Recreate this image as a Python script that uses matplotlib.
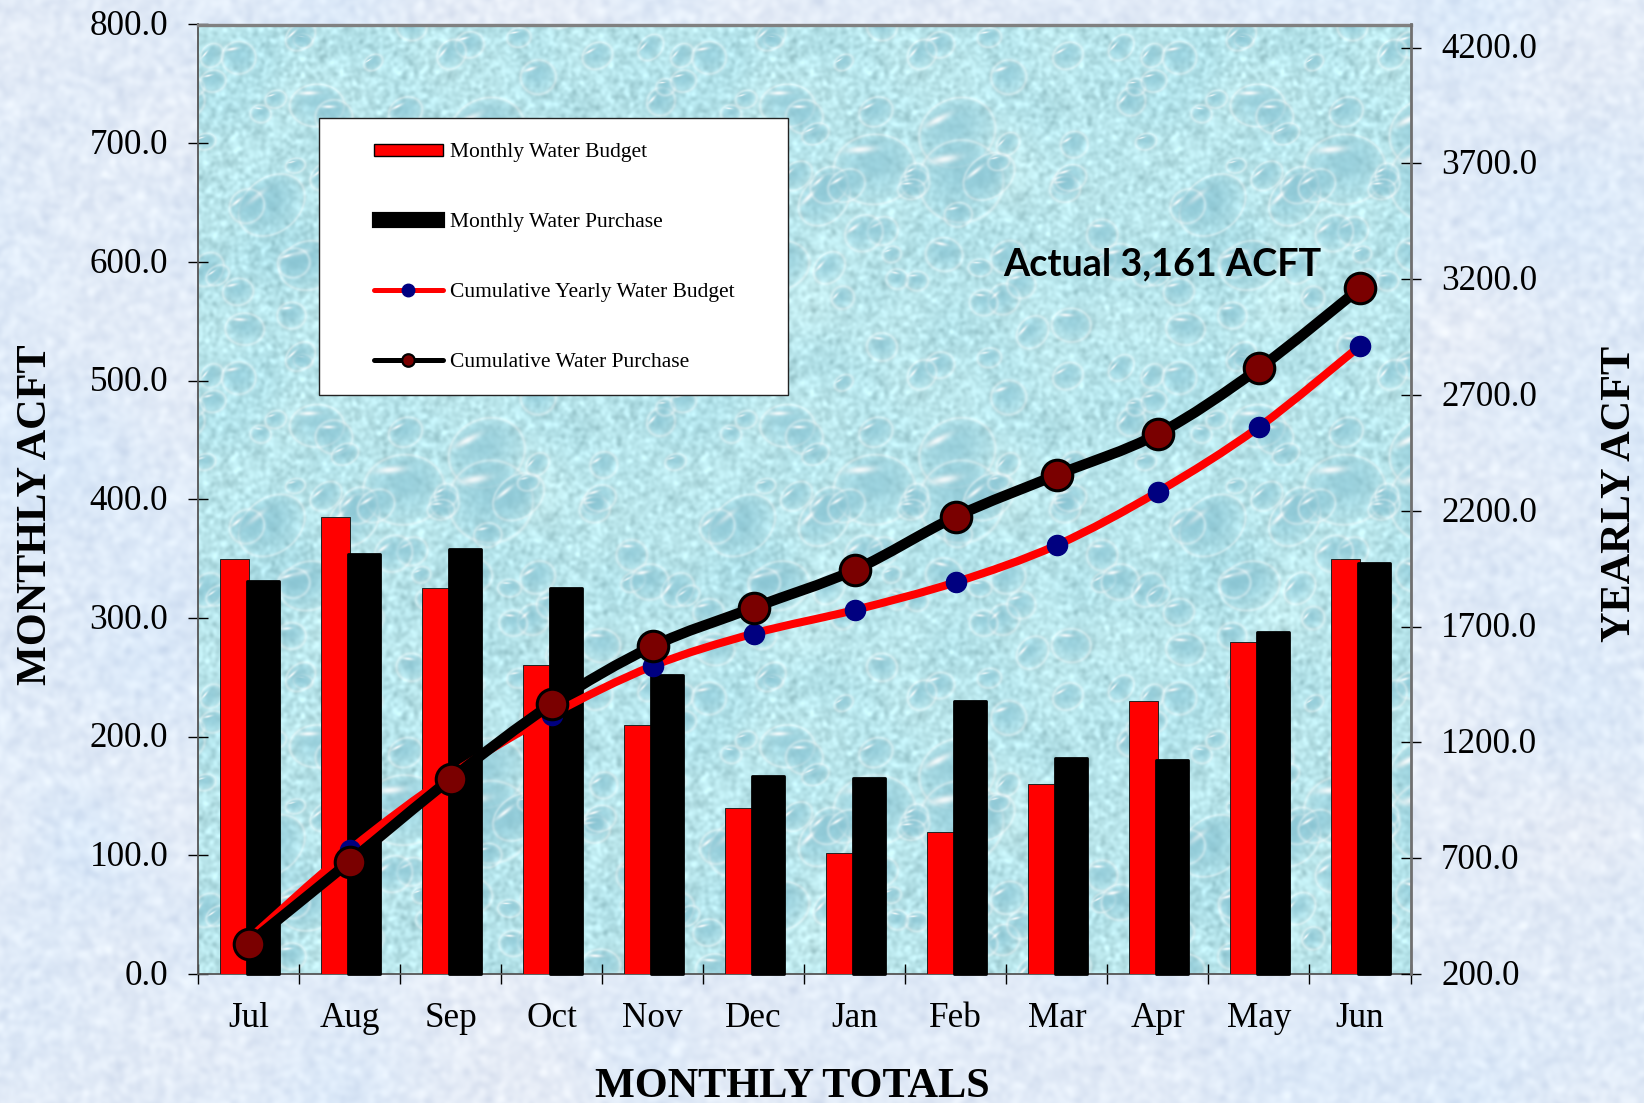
import numpy as np
import matplotlib
matplotlib.use("Agg")
import matplotlib.pyplot as plt
from matplotlib.lines import Line2D
from matplotlib.patches import Patch, PathPatch, Rectangle
from matplotlib.path import Path
from matplotlib.transforms import ScaledTranslation

# Water budget data in acre-feet, by fiscal-year month
months = ["Jul", "Aug", "Sep", "Oct", "Nov", "Dec", "Jan", "Feb", "Mar", "Apr", "May", "Jun"]
monthly_budget = [350, 385, 325, 260, 210, 140, 102, 120, 160, 230, 280, 350]
monthly_purchase = [331, 354, 358, 325, 252, 167, 165, 230, 182, 180, 288, 346]
cumulative_budget = [350, 735, 1060, 1320, 1530, 1670, 1772, 1892, 2052, 2282, 2562, 2912]
cumulative_purchase = [331, 685, 1042, 1365, 1615, 1782, 1945, 2175, 2355, 2532, 2815, 3161]
left_ticks = [0, 100, 200, 300, 400, 500, 600, 700, 800]
right_ticks = [200, 700, 1200, 1700, 2200, 2700, 3200, 3700, 4200]

W, H = 1644, 1103
PLOT_L, PLOT_R, PLOT_T, PLOT_B = 198, 1410.5, 24.5, 974
SERIF = "Liberation Serif"


def fx(px):
    return px / W


def fy(py):
    return 1 - py / H


def lowpass(rng, h, w, scale):
    """Smooth noise field normalised to unit spread."""
    spec = np.fft.rfft2(rng.standard_normal((h, w)))
    ky = np.fft.fftfreq(h)[:, None]
    kx = np.fft.rfftfreq(w)[None, :]
    field = np.fft.irfft2(spec * np.exp(-2 * (np.pi * scale) ** 2 * (kx ** 2 + ky ** 2)), s=(h, w))
    return field / field.std()


def paper_texture(h, w):
    """Pale blue mottled page backdrop."""
    rng = np.random.default_rng(11)
    img = np.ones((h, w, 3)) * np.array([225, 235, 248]) / 255
    cloud = lowpass(rng, h, w, 45)[..., None]
    fine = lowpass(rng, h, w, 3.0)[..., None]
    img += cloud * np.array([-0.010, -0.003, 0.002]) + fine * np.array([0.016, 0.014, 0.009])
    return np.clip(img, 0, 1)


def droplet_tile(h, w):
    """Wet glass pattern: aqua base with shaded drops and bright streaks."""
    rng = np.random.default_rng(5)
    img = np.ones((h, w, 3)) * np.array([184, 229, 235]) / 255
    img += lowpass(rng, h, w, 22)[..., None] * np.array([-0.014, -0.008, -0.005])
    grain = lowpass(rng, h, w, 1.8)[..., None]
    img += grain * 0.034
    yy, xx = np.mgrid[0:h, 0:w]
    dark = np.array([135, 195, 210]) / 255
    sizes = np.concatenate([rng.uniform(26, 46, 8), rng.uniform(9, 20, 60)])
    for a in sizes:
        cx, cy = rng.uniform(0, w), rng.uniform(0, h)
        b = a * rng.uniform(0.72, 1.0)
        theta = rng.uniform(-0.9, 0.2)
        dx = (xx - cx + w / 2) % w - w / 2
        dy = (yy - cy + h / 2) % h - h / 2
        u = (dx * np.cos(theta) + dy * np.sin(theta)) / a
        v = (-dx * np.sin(theta) + dy * np.cos(theta)) / b
        r = np.hypot(u, v)
        fill = np.clip(1 - r, 0, 1) ** 0.5 * np.clip(0.68 - 0.40 * v, 0, 1)
        img += (dark - img) * fill[..., None] * (r < 1)[..., None]
        rim = np.exp(-((r - 1.0) / (1.8 / a)) ** 2)
        img += (1 - img) * rim[..., None] * 0.32
        spark = np.exp(-(((u + 0.30) / 0.34) ** 2 + ((v + 0.60) / 0.10) ** 2))
        img += (1 - img) * spark[..., None] * 0.85
    return np.clip(img, 0, 1)


def smooth_path(xs, ys):
    """Cubic curve through the points, Catmull-Rom style."""
    pts = np.column_stack([xs, ys]).astype(float)
    verts, codes = [pts[0]], [Path.MOVETO]
    for i in range(len(pts) - 1):
        p0 = pts[max(i - 1, 0)]
        p1, p2 = pts[i], pts[i + 1]
        p3 = pts[min(i + 2, len(pts) - 1)]
        verts += [p1 + (p2 - p0) / 6, p2 - (p3 - p1) / 6, p2]
        codes += [Path.CURVE4] * 3
    return Path(verts, codes)


fig = plt.figure(figsize=(W / 100, H / 100), dpi=100)

# Textured backdrops for the page and the plotting area
page = fig.add_axes([0, 0, 1, 1], zorder=0)
page.imshow(paper_texture(H, W), aspect="auto", interpolation="bilinear")
page.axis("off")

plot_box = [fx(PLOT_L), fy(PLOT_B), fx(PLOT_R - PLOT_L), (PLOT_B - PLOT_T) / H]
water = fig.add_axes(plot_box, zorder=1)
tile = droplet_tile(320, 470)
pw, ph = int(PLOT_R - PLOT_L), int(PLOT_B - PLOT_T)
water.imshow(np.tile(tile, (4, 4, 1))[:ph, :pw], aspect="auto", interpolation="bilinear")
water.axis("off")

ax = fig.add_axes(plot_box, zorder=2)
ax.patch.set_visible(False)
x = np.arange(len(months))

# Monthly bars
ax.bar(x - 0.283, monthly_budget, width=0.283, align="edge", color="#ff0000",
       edgecolor="#222222", linewidth=0.7, zorder=3)
ax.bar(x - 0.018, monthly_purchase, width=0.318, align="edge", color="black",
       edgecolor="black", linewidth=2.0, joinstyle="round", clip_on=False, zorder=4)

ax.set_xlim(-0.5, 11.5)
ax.set_ylim(0, 800)
ax.set_yticks(left_ticks)
ax.set_yticklabels([f"{v:.1f}" for v in left_ticks], family=SERIF, fontsize=25.2, color="black")
ax.set_xticks(np.r_[-0.5, x + 0.5], minor=False)
ax.set_xticklabels([])
ax.set_xticks(x, minor=True)
ax.set_xticklabels(months, minor=True, family=SERIF, fontsize=25.3, color="black")
ax.tick_params(axis="y", direction="inout", length=15, width=1, pad=14)
ax.tick_params(axis="x", which="major", direction="inout", length=15, width=1)
ax.tick_params(axis="x", which="minor", length=0, pad=20)

# Cumulative curves on the yearly scale
ax2 = ax.twinx()
ax2.set_zorder(3)
ax2.patch.set_visible(False)
ax2.set_ylim(200, 4300)
ax2.set_yticks(right_ticks)
ax2.set_yticklabels([f"{v:.1f}" for v in right_ticks], family=SERIF, fontsize=25.2, color="black")
ax2.tick_params(axis="y", direction="inout", length=15, width=1, pad=14.5)

# Numbers sit a touch above their ticks
nudge = ScaledTranslation(0, 1.3 / 72, fig.dpi_scale_trans)
for label in ax.get_yticklabels() + ax2.get_yticklabels():
    label.set_transform(label.get_transform() + nudge)

ax2.add_patch(PathPatch(smooth_path(x, cumulative_budget), fill=False, edgecolor="#ff0000",
                        linewidth=5.8, capstyle="round", zorder=3))
ax2.plot(x, cumulative_budget, linestyle="none", marker="o", markersize=14.5,
         markerfacecolor="#000080", markeredgecolor="#000080", zorder=4)
ax2.add_patch(PathPatch(smooth_path(x, cumulative_purchase), fill=False, edgecolor="black",
                        linewidth=7.5, capstyle="round", zorder=5))
ax2.plot(x, cumulative_purchase, linestyle="none", marker="o", markersize=22,
         markerfacecolor="#7a0000", markeredgecolor="black", markeredgewidth=2.2, zorder=6)

for spine in ("left", "bottom"):
    ax.spines[spine].set_color("#555555")
    ax.spines[spine].set_linewidth(1.3)
ax.spines["top"].set_color("#808080")
ax.spines["top"].set_linewidth(2.4)
ax.spines["right"].set_visible(False)
ax2.spines["left"].set_visible(False)
ax2.spines["bottom"].set_visible(False)
ax2.spines["top"].set_visible(False)
ax2.spines["right"].set_color("#707070")
ax2.spines["right"].set_linewidth(2.0)

# Legend sits on a white panel inside the plot
panel = Rectangle((fx(319), fy(395)), fx(787.5 - 319), (395 - 117.5) / H, transform=fig.transFigure,
                  facecolor="white", edgecolor="#222222", linewidth=1.0, zorder=5)
overlay = fig.add_axes([0, 0, 1, 1], zorder=4)
overlay.axis("off")
overlay.add_patch(panel)
handles = [
    Patch(facecolor="#ff0000", edgecolor="black", linewidth=1.0),
    Patch(facecolor="black", edgecolor="black", linewidth=3.0, joinstyle="round"),
    Line2D([], [], color="#ff0000", linewidth=3.6, solid_capstyle="round", marker="o",
           markersize=9, markerfacecolor="#000080", markeredgecolor="#000080"),
    Line2D([], [], color="black", linewidth=3.6, solid_capstyle="round", marker="o",
           markersize=9, markerfacecolor="#7a0000", markeredgecolor="black", markeredgewidth=1.6),
]
labels = ["Monthly Water Budget", "Monthly Water Purchase",
          "Cumulative Yearly Water Budget", "Cumulative Water Purchase"]
legend = overlay.legend(handles, labels, loc="upper left", bbox_to_anchor=(fx(373.5), fy(143.5)),
                        bbox_transform=fig.transFigure, frameon=False, borderpad=0, borderaxespad=0,
                        prop={"family": SERIF, "size": 15.5}, handlelength=3.25, handleheight=0.5,
                        handletextpad=0.3, labelspacing=2.36)
legend.set_zorder(6)

# Callout and axis titles
overlay.text(fx(1162), fy(264), "Actual 3,161 ACFT", transform=fig.transFigure, ha="center", va="center",
             family="Lato", weight="bold", fontsize=27.2, color="black", zorder=7)
title_style = dict(family=SERIF, weight="bold", fontsize=30.4, color="black", transform=fig.transFigure)
overlay.text(fx(35.5), fy(515), "MONTHLY ACFT", rotation=90, ha="center", va="center", **title_style)
overlay.text(fx(1620), fy(494), "YEARLY ACFT", rotation=90, ha="center", va="center", **title_style)
overlay.text(fx(792.5), fy(1097), "MONTHLY TOTALS", ha="center", va="baseline", **title_style)

fig.savefig("out.png", dpi=100)
